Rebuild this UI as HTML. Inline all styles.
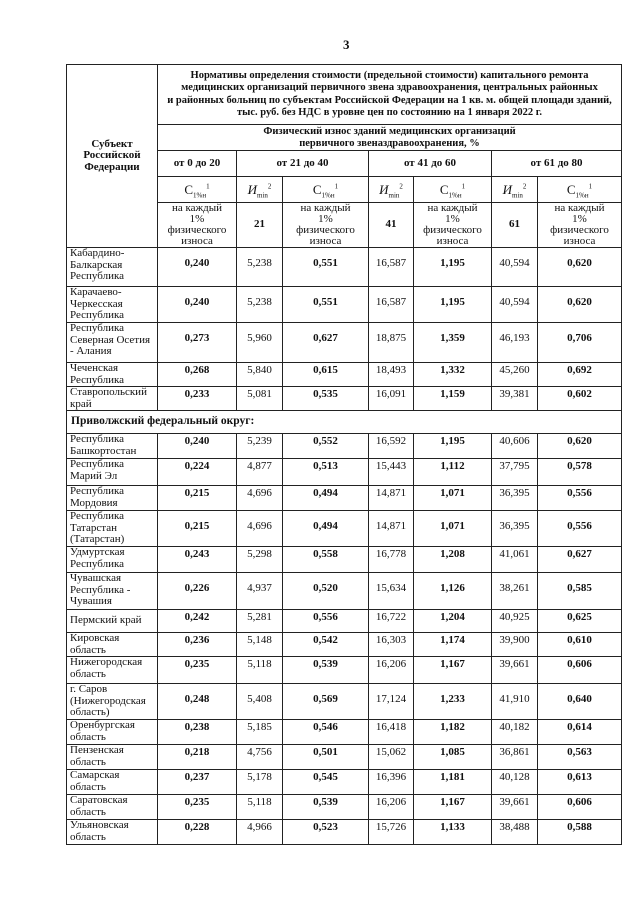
<!DOCTYPE html>
<html><head><meta charset="utf-8"><style>
body{margin:0;background:#fff;width:640px;height:905px;position:relative;font-family:"Liberation Serif",serif;color:#111;}
.pn{position:absolute;left:343px;top:37px;font-size:13px;font-weight:bold;}
table{position:absolute;left:66px;top:64px;border-collapse:collapse;table-layout:fixed;width:555px;}
td{border:1.5px solid #222;font-size:11px;line-height:11.5px;padding:0;text-align:center;overflow:hidden;}
.h td{font-weight:bold;vertical-align:middle;}
.n{text-align:left;padding-left:3px;vertical-align:top;}
td.v{vertical-align:top;padding-top:2px;}
.b{font-weight:bold;}
.p3 td.v{padding-top:10px;}
.sec{text-align:left;padding-left:4px;font-weight:bold;font-size:11.5px;}
sup{font-size:7px;line-height:0;}
sub{font-size:7px;line-height:0;}
.h td.desc{font-weight:normal;line-height:10.8px;}
.h td.cc{font-size:13px;font-weight:normal;}
</style></head><body>
<div class="pn">3</div>
<table>
<colgroup><col style="width:91px"><col style="width:79px"><col style="width:46px"><col style="width:86px"><col style="width:45px"><col style="width:78px"><col style="width:46px"><col style="width:84px"></colgroup>
<tr class="h" style="height:60px"><td rowspan="5">Субъект<br>Российской<br>Федерации</td><td colspan="7" style="font-size:10.5px;line-height:12.5px">Нормативы определения стоимости (предельной стоимости) капитального ремонта<br>медицинских организаций первичного звена здравоохранения, центральных районных<br>и районных больниц по субъектам Российской Федерации на 1 кв. м. общей площади зданий,<br>тыс. руб. без НДС в уровне цен по состоянию на 1 января 2022 г.</td></tr>
<tr class="h" style="height:26px"><td colspan="7" style="font-size:10.5px;line-height:11.5px">Физический износ зданий медицинских организаций<br>первичного звеназдравоохранения, %</td></tr>
<tr class="h" style="height:26px"><td>от 0 до 20</td><td colspan="2">от 21 до 40</td><td colspan="2">от 41 до 60</td><td colspan="2">от 61 до 80</td></tr>
<tr class="h" style="height:26px"><td class="cc">С<sub>1%н</sub><sup>1</sup></td><td class="cc"><i>И</i><sub>min</sub><sup>2</sup></td><td class="cc">С<sub>1%н</sub><sup>1</sup></td><td class="cc"><i>И</i><sub>min</sub><sup>2</sup></td><td class="cc">С<sub>1%н</sub><sup>1</sup></td><td class="cc"><i>И</i><sub>min</sub><sup>2</sup></td><td class="cc">С<sub>1%н</sub><sup>1</sup></td></tr>
<tr class="h" style="height:45px"><td class="desc">на каждый<br>1%<br>физического<br>износа</td><td>21</td><td class="desc">на каждый<br>1%<br>физического<br>износа</td><td>41</td><td class="desc">на каждый<br>1%<br>физического<br>износа</td><td>61</td><td class="desc">на каждый<br>1%<br>физического<br>износа</td></tr>
<tr class="p3" style="height:39px"><td class="n">Кабардино-<br>Балкарская<br>Республика</td><td class="v b">0,240</td><td class="v">5,238</td><td class="v b">0,551</td><td class="v">16,587</td><td class="v b">1,195</td><td class="v">40,594</td><td class="v b">0,620</td></tr>
<tr class="p3" style="height:36px"><td class="n">Карачаево-<br>Черкесская<br>Республика</td><td class="v b">0,240</td><td class="v">5,238</td><td class="v b">0,551</td><td class="v">16,587</td><td class="v b">1,195</td><td class="v">40,594</td><td class="v b">0,620</td></tr>
<tr class="p3" style="height:40px"><td class="n">Республика<br>Северная Осетия<br>- Алания</td><td class="v b">0,273</td><td class="v">5,960</td><td class="v b">0,627</td><td class="v">18,875</td><td class="v b">1,359</td><td class="v">46,193</td><td class="v b">0,706</td></tr>
<tr style="height:24px"><td class="n">Чеченская<br>Республика</td><td class="v b">0,268</td><td class="v">5,840</td><td class="v b">0,615</td><td class="v">18,493</td><td class="v b">1,332</td><td class="v">45,260</td><td class="v b">0,692</td></tr>
<tr style="height:24px"><td class="n">Ставропольский<br>край</td><td class="v b">0,233</td><td class="v">5,081</td><td class="v b">0,535</td><td class="v">16,091</td><td class="v b">1,159</td><td class="v">39,381</td><td class="v b">0,602</td></tr>
<tr style="height:23px"><td colspan="8" class="sec">Приволжский федеральный округ:</td></tr>
<tr style="height:25px"><td class="n">Республика<br>Башкортостан</td><td class="v b">0,240</td><td class="v">5,239</td><td class="v b">0,552</td><td class="v">16,592</td><td class="v b">1,195</td><td class="v">40,606</td><td class="v b">0,620</td></tr>
<tr style="height:27px"><td class="n">Республика<br>Марий Эл</td><td class="v b">0,224</td><td class="v">4,877</td><td class="v b">0,513</td><td class="v">15,443</td><td class="v b">1,112</td><td class="v">37,795</td><td class="v b">0,578</td></tr>
<tr style="height:25px"><td class="n">Республика<br>Мордовия</td><td class="v b">0,215</td><td class="v">4,696</td><td class="v b">0,494</td><td class="v">14,871</td><td class="v b">1,071</td><td class="v">36,395</td><td class="v b">0,556</td></tr>
<tr class="p3" style="height:36px"><td class="n">Республика<br>Татарстан<br>(Татарстан)</td><td class="v b">0,215</td><td class="v">4,696</td><td class="v b">0,494</td><td class="v">14,871</td><td class="v b">1,071</td><td class="v">36,395</td><td class="v b">0,556</td></tr>
<tr style="height:26px"><td class="n">Удмуртская<br>Республика</td><td class="v b">0,243</td><td class="v">5,298</td><td class="v b">0,558</td><td class="v">16,778</td><td class="v b">1,208</td><td class="v">41,061</td><td class="v b">0,627</td></tr>
<tr class="p3" style="height:37px"><td class="n">Чувашская<br>Республика -<br>Чувашия</td><td class="v b">0,226</td><td class="v">4,937</td><td class="v b">0,520</td><td class="v">15,634</td><td class="v b">1,126</td><td class="v">38,261</td><td class="v b">0,585</td></tr>
<tr style="height:23px"><td class="n" style="vertical-align:middle">Пермский край</td><td class="v b">0,242</td><td class="v">5,281</td><td class="v b">0,556</td><td class="v">16,722</td><td class="v b">1,204</td><td class="v">40,925</td><td class="v b">0,625</td></tr>
<tr style="height:24px"><td class="n">Кировская<br>область</td><td class="v b">0,236</td><td class="v">5,148</td><td class="v b">0,542</td><td class="v">16,303</td><td class="v b">1,174</td><td class="v">39,900</td><td class="v b">0,610</td></tr>
<tr style="height:27px"><td class="n">Нижегородская<br>область</td><td class="v b">0,235</td><td class="v">5,118</td><td class="v b">0,539</td><td class="v">16,206</td><td class="v b">1,167</td><td class="v">39,661</td><td class="v b">0,606</td></tr>
<tr class="p3" style="height:36px"><td class="n">г. Саров<br>(Нижегородская<br>область)</td><td class="v b">0,248</td><td class="v">5,408</td><td class="v b">0,569</td><td class="v">17,124</td><td class="v b">1,233</td><td class="v">41,910</td><td class="v b">0,640</td></tr>
<tr style="height:25px"><td class="n">Оренбургская<br>область</td><td class="v b">0,238</td><td class="v">5,185</td><td class="v b">0,546</td><td class="v">16,418</td><td class="v b">1,182</td><td class="v">40,182</td><td class="v b">0,614</td></tr>
<tr style="height:25px"><td class="n">Пензенская<br>область</td><td class="v b">0,218</td><td class="v">4,756</td><td class="v b">0,501</td><td class="v">15,062</td><td class="v b">1,085</td><td class="v">36,861</td><td class="v b">0,563</td></tr>
<tr style="height:25px"><td class="n">Самарская<br>область</td><td class="v b">0,237</td><td class="v">5,178</td><td class="v b">0,545</td><td class="v">16,396</td><td class="v b">1,181</td><td class="v">40,128</td><td class="v b">0,613</td></tr>
<tr style="height:25px"><td class="n">Саратовская<br>область</td><td class="v b">0,235</td><td class="v">5,118</td><td class="v b">0,539</td><td class="v">16,206</td><td class="v b">1,167</td><td class="v">39,661</td><td class="v b">0,606</td></tr>
<tr style="height:25px"><td class="n">Ульяновская<br>область</td><td class="v b">0,228</td><td class="v">4,966</td><td class="v b">0,523</td><td class="v">15,726</td><td class="v b">1,133</td><td class="v">38,488</td><td class="v b">0,588</td></tr>
</table>
</body></html>
